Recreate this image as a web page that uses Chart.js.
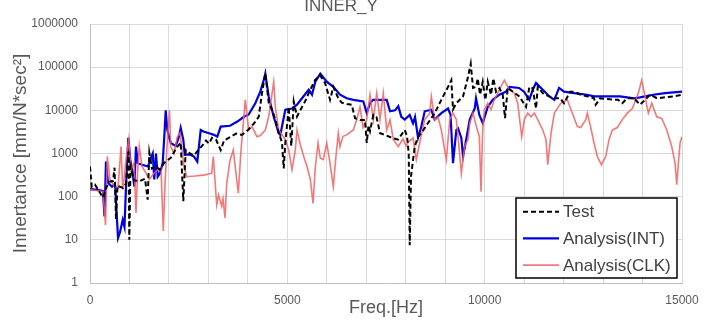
<!DOCTYPE html>
<html>
<head>
<meta charset="utf-8">
<script src="https://cdn.jsdelivr.net/npm/chart.js@4"></script>
<style>
  body { margin: 0; background: #fff; }
  #wrap { width: 710px; height: 326px; }
</style>
</head>
<body>
<div id="wrap"><canvas id="innerY"></canvas></div>
<script>
// Test (measured) curve
const testFreq = [0, 43, 127, 253, 329, 423, 507, 583, 621, 659, 697, 760, 836, 912, 976, 996, 1026, 1115, 1267, 1394,
  1462, 1503, 1571, 1672, 1773, 1875, 2052, 2179, 2298, 2364, 2425, 2534, 2635, 2711, 2838, 2939, 3015, 3091, 3193, 3312,
  3396, 3548, 3700, 3852, 4004, 4156, 4275, 4358, 4442, 4528, 4612, 4696, 4782, 4865, 4908, 4949, 5035, 5068, 5101, 5162,
  5245, 5372, 5448, 5542, 5702, 5828, 5955, 6082, 6165, 6292, 6378, 6512, 6631, 6715, 6842, 6969, 7012, 7057, 7095, 7179,
  7260, 7349, 7475, 7653, 7805, 7975, 8033, 8076, 8101, 8134, 8228, 8312, 8395, 8565, 8735, 8902, 9072, 9155, 9198, 9282,
  9452, 9579, 9647, 9705, 9781, 9824, 9883, 9951, 10017, 10078, 10161, 10220, 10288, 10372, 10458, 10516, 10585, 10693, 10878, 11048,
  11132, 11213, 11302, 11345, 11472, 11631, 11808, 11910, 12011, 12163, 12265, 12434, 12619, 12771, 12814, 12923, 13177, 13380, 13488, 13608,
  13785, 13937, 14064, 14190, 14368, 14570, 14773, 15000];
const testVal = [500, 170, 190, 123, 95, 170, 225, 230, 470, 30, 180, 170, 160, 200, 1100, 10, 500, 240, 230, 260,
  85, 1050, 450, 500, 420, 600, 800, 1300, 1800, 78, 1200, 1000, 900, 1100, 1500, 2000, 1700, 2300, 2100, 1200,
  2000, 2400, 2900, 2700, 3500, 5000, 7100, 25000, 72000, 15000, 10300, 6100, 3000, 1800, 450, 1750, 12000, 4000, 1500, 16000,
  7200, 12000, 16000, 25000, 50000, 65000, 43000, 17500, 35000, 19000, 15000, 14000, 13500, 6600, 6000, 6000, 1750, 4500, 3300, 7800,
  7000, 2950, 2700, 2300, 2100, 3500, 2500, 1000, 7.5, 300, 1450, 2450, 2950, 5100, 8600, 17500, 35000, 50000, 10500, 14600,
  21000, 60000, 120000, 33000, 35000, 55000, 23000, 46000, 17500, 46000, 23000, 55000, 27000, 33000, 23000, 6600, 33000, 28000, 21000, 12000,
  35000, 33000, 11000, 35000, 25000, 21000, 19000, 19000, 14600, 27000, 27000, 23000, 21000, 19000, 13500, 19000, 18000, 17500, 14600, 19000,
  19000, 13500, 17500, 23000, 19000, 20000, 21000, 23000];

// Analysis (INT)
const intFreq = [0, 127, 253, 329, 367, 405, 456, 557, 634, 710, 760, 829, 874, 912, 971, 1021, 1082, 1123, 1166, 1209,
  1318, 1470, 1546, 1589, 1629, 1672, 1716, 1773, 1842, 1888, 1918, 1959, 2045, 2172, 2255, 2298, 2364, 2400, 2534, 2635,
  2719, 2805, 2889, 3041, 3142, 3226, 3312, 3548, 3733, 3902, 4021, 4189, 4315, 4402, 4442, 4528, 4655, 4782, 4822, 4949,
  5119, 5245, 5372, 5542, 5625, 5709, 5836, 5998, 6165, 6335, 6505, 6672, 6926, 7012, 7095, 7171, 7518, 7602, 7729, 7812,
  7888, 7975, 8101, 8185, 8236, 8312, 8395, 8481, 8648, 8735, 8902, 9072, 9135, 9198, 9282, 9325, 9409, 9452, 9503, 9622,
  9748, 9781, 9865, 9951, 10078, 10204, 10372, 10541, 10625, 10871, 10998, 11132, 11218, 11302, 11472, 11639, 11766, 11885, 12011, 12265,
  12594, 12771, 13430, 13785, 13937, 14274, 14570, 15000];
const intVal = [150, 145, 140, 135, 35, 650, 210, 170, 200, 11, 15, 29, 20, 170, 2300, 720, 350, 170, 1450, 600,
  550, 500, 800, 1000, 250, 1000, 290, 350, 600, 3000, 10000, 3500, 1750, 1500, 2450, 3900, 2100, 930, 950, 850,
  650, 3500, 3200, 2900, 2700, 2450, 4200, 4400, 5500, 7100, 8000, 14600, 27000, 50000, 71000, 21000, 7100, 2950, 2700, 10300,
  11000, 13500, 19000, 30000, 23000, 46000, 71000, 46000, 35000, 23000, 19000, 17500, 16000, 8600, 14600, 17500, 17500, 9500, 10000, 12500,
  7100, 6100, 7800, 5000, 7000, 2300, 4200, 9500, 10300, 6100, 8600, 11000, 8000, 600, 3500, 3800, 2300, 850, 1500, 6100,
  11000, 19000, 7800, 5100, 12000, 17500, 23000, 27000, 35000, 33000, 27000, 17500, 30000, 43000, 30000, 21000, 17500, 33000, 27000, 25000,
  23000, 21000, 21000, 19000, 20000, 23000, 25000, 27000];

// Analysis (CLK)
const clkFreq = [0, 253, 329, 393, 438, 507, 608, 710, 786, 829, 862, 912, 981, 1039, 1115, 1166, 1209, 1249, 1318, 1419,
  1503, 1622, 1716, 1799, 1857, 1901, 1951, 2015, 2045, 2129, 2212, 2281, 2319, 2382, 2450, 2661, 2914, 3084, 3124, 3211,
  3256, 3337, 3370, 3421, 3464, 3548, 3631, 3758, 3826, 3935, 4021, 4105, 4232, 4315, 4442, 4528, 4655, 4696, 4782, 4949,
  5035, 5119, 5202, 5245, 5329, 5415, 5499, 5583, 5651, 5709, 5778, 5836, 5912, 5998, 6082, 6165, 6234, 6292, 6335, 6411,
  6505, 6672, 6758, 6842, 6918, 7012, 7095, 7179, 7265, 7349, 7432, 7518, 7602, 7686, 7812, 7931, 8007, 8058, 8185, 8268,
  8355, 8481, 8608, 8648, 8735, 8818, 8902, 9029, 9115, 9198, 9282, 9325, 9409, 9495, 9579, 9622, 9705, 9789, 9865, 9908,
  9946, 9992, 10078, 10161, 10245, 10372, 10498, 10625, 10752, 10838, 10878, 10939, 11005, 11091, 11175, 11259, 11345, 11472, 11555, 11598,
  11682, 11766, 11927, 12095, 12222, 12349, 12434, 12561, 12602, 12688, 12771, 12855, 12956, 13068, 13151, 13235, 13362, 13488, 13614, 13741,
  13834, 13893, 13979, 14064, 14147, 14233, 14360, 14487, 14614, 14740, 14824, 14867, 14908, 14951, 15000];
const clkVal = [145, 135, 130, 22, 860, 250, 180, 160, 1450, 145, 250, 720, 2100, 420, 600, 42, 420, 1450, 500, 350,
  250, 350, 420, 450, 16, 200, 1500, 10000, 1450, 1000, 2450, 3000, 1500, 500, 290, 300, 320, 350, 850, 65,
  110, 60, 90, 32, 200, 700, 1200, 120, 1200, 17500, 3500, 4200, 2450, 2600, 3500, 7100, 46000, 12000, 3500, 2100,
  1200, 420, 1200, 3500, 1600, 850, 500, 250, 70, 480, 1750, 780, 720, 1750, 600, 170, 900, 2950, 1450, 2500,
  2700, 3500, 6100, 12000, 4000, 6100, 23000, 6100, 25000, 6100, 25000, 3500, 6000, 2100, 1450, 2200, 1500, 1800, 2300, 720,
  1800, 6100, 8600, 21000, 6100, 7000, 3500, 720, 6100, 8600, 6100, 2500, 350, 1500, 2100, 5000, 8600, 4200, 2450, 130,
  3000, 10300, 14600, 10300, 17500, 30000, 50000, 30000, 25000, 14600, 7100, 2450, 6100, 8600, 7100, 8600, 6100, 3500, 2100, 550,
  2950, 8600, 14600, 17500, 8600, 4200, 4000, 6100, 8600, 4000, 1750, 850, 550, 850, 2100, 3500, 4000, 6100, 8600, 11000,
  18000, 25000, 50000, 21000, 8600, 14600, 7100, 6500, 3500, 1450, 600, 190, 600, 1750, 2450];

const yTicks = [1, 10, 100, 1000, 10000, 100000, 1000000];
const xLabels = [0, 5000, 10000, 15000];

const toPoints = (fs, vs) => fs.map((f, i) => ({x: f, y: vs[i]}));

Chart.defaults.font.family = "'Liberation Sans', Arial, sans-serif";
Chart.defaults.color = '#595959';

// legend drawn inside the plot, bottom right, with a black frame
const boxLegend = {
  id: 'boxLegend',
  afterDraw(chart) {
    const ctx = chart.ctx;
    const area = chart.chartArea;
    const left = area.right - 166, top = area.bottom - 85;
    ctx.save();
    ctx.fillStyle = '#fff';
    ctx.fillRect(left, top, 161, 80);
    ctx.strokeStyle = '#000';
    ctx.lineWidth = 1.5;
    ctx.strokeRect(left, top, 161, 80);
    const order = [0, 1, 2];
    order.forEach((di, row) => {
      const ds = chart.data.datasets[di];
      const y = top + 13.7 + row * 26.7;
      ctx.beginPath();
      ctx.setLineDash(ds.borderDash || []);
      ctx.strokeStyle = ds.borderColor;
      ctx.lineWidth = ds.borderWidth;
      ctx.moveTo(left + 7, y);
      ctx.lineTo(left + 43, y);
      ctx.stroke();
      ctx.setLineDash([]);
      ctx.fillStyle = '#404040';
      ctx.font = "17px 'Liberation Sans', Arial, sans-serif";
      ctx.textBaseline = 'middle';
      ctx.fillText(ds.label, left + 47, y + 1);
    });
    ctx.restore();
  }
};

new Chart(document.getElementById('innerY'), {
  type: 'line',
  data: {
    datasets: [
      {label: 'Test', data: toPoints(testFreq, testVal), borderColor: '#000', borderWidth: 2, borderDash: [5, 3], order: 1},
      {label: 'Analysis(INT)', data: toPoints(intFreq, intVal), borderColor: 'rgb(0,0,225)', borderWidth: 2.2, order: 3},
      {label: 'Analysis(CLK)', data: toPoints(clkFreq, clkVal), borderColor: 'rgba(245,95,95,0.85)', borderWidth: 1.6, order: 2}
    ]
  },
  options: {
    responsive: true,
    maintainAspectRatio: false,
    animation: false,
    elements: {point: {radius: 0}, line: {tension: 0}},
    layout: {padding: {left: 0, right: 28, top: 0, bottom: 0}},
    plugins: {
      legend: {display: false},
      tooltip: {enabled: false},
      title: {
        display: true,
        text: 'INNER_Y',
        color: '#595959',
        font: {size: 17, weight: 'normal'},
        padding: {top: -4.2, bottom: 7.8}
      }
    },
    scales: {
      x: {
        type: 'linear',
        min: 0,
        max: 15000,
        afterFit: s => { s.height = 43; },
        ticks: {
          stepSize: 1000,
          autoSkip: false,
          maxRotation: 0,
          padding: 10,
          font: {size: 12},
          callback: v => xLabels.includes(v) ? String(v) : ''
        },
        grid: {color: '#d9d9d9', drawTicks: false},
        border: {color: '#bfbfbf'},
        title: {display: true, text: 'Freq.[Hz]', font: {size: 18}, color: '#595959', padding: {top: 0, bottom: 7.2}}
      },
      y: {
        type: 'logarithmic',
        min: 1,
        max: 1000000,
        afterFit: s => { s.width = 90; },
        afterBuildTicks: s => { s.ticks = yTicks.map(v => ({value: v})); },
        ticks: {padding: 12, font: {size: 12}, callback: v => String(v)},
        grid: {color: '#d9d9d9', drawTicks: false},
        border: {color: '#bfbfbf'},
        title: {display: true, text: 'Innertance [mm/N*sec²]', font: {size: 19}, color: '#595959', padding: {top: 9.6, bottom: 0}}
      }
    }
  },
  plugins: [boxLegend]
});
</script>
</body>
</html>
